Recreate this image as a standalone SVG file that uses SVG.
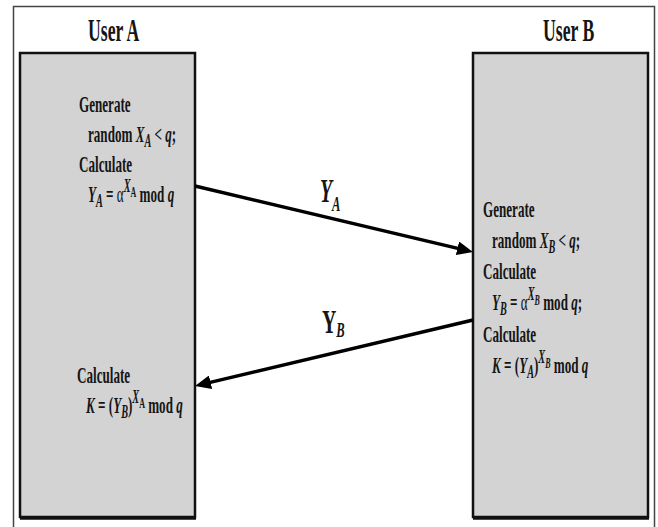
<svg xmlns="http://www.w3.org/2000/svg" width="658" height="527" viewBox="0 0 658 527">
<style>
.t{font-family:"Liberation Serif","Times New Roman",serif;font-size:23px;font-weight:bold;fill:#151515}
.h{font-size:31px}
.lab{font-size:33px}
.i{font-style:italic}
.n{font-weight:normal}
.s{font-size:18px}
.ss{font-size:14px}
.ls{font-size:21px}
.box{fill:#d3d3d3;stroke:#111;stroke-width:2.5}
.shadow{stroke:#111;stroke-width:3.5}
.conn{stroke:#000;stroke-width:3.5;fill:none}
</style>
<defs>
<marker id="ah" markerUnits="userSpaceOnUse" markerWidth="16" markerHeight="14" refX="8" refY="7" orient="auto">
<path d="M0,0 L16,7 L0,14 z" fill="#000"/>
</marker>
</defs>
<rect width="658" height="527" fill="#fff"/>
<path d="M13.5,527 V6.5 H654.5 V527" fill="none" stroke="#444" stroke-width="1.5"/>

<g id="userA">
<text class="t h" transform="translate(88,41) scale(0.57,1)">User A</text>
<rect class="box" x="20" y="53" width="175" height="464"/>
<line class="shadow" x1="20" y1="518" x2="196" y2="518"/>
<text class="t" transform="translate(79,112) scale(0.57,1)">Generate</text>
<text class="t" transform="translate(88,142) scale(0.57,1)">random <tspan class="i">X</tspan><tspan class="i s" dy="5">A</tspan><tspan dy="-5"> &lt; </tspan><tspan class="i">q</tspan>;</text>
<text class="t" transform="translate(79,172) scale(0.57,1)">Calculate</text>
<text class="t" transform="translate(88,202) scale(0.57,1)"><tspan class="i">Y</tspan><tspan class="i s" dy="5">A</tspan><tspan dy="-5"> = </tspan><tspan class="n">α</tspan><tspan class="i s" dy="-10">X</tspan><tspan class="ss" dy="5">A</tspan><tspan dy="5"> mod </tspan><tspan class="i">q</tspan></text>
<text class="t" transform="translate(77,383) scale(0.57,1)">Calculate</text>
<text class="t" transform="translate(86,413) scale(0.57,1)"><tspan class="i">K</tspan> = (<tspan class="i">Y</tspan><tspan class="i s" dy="5">B</tspan><tspan dy="-5">)</tspan><tspan class="i s" dy="-10">X</tspan><tspan class="ss" dy="5">A</tspan><tspan dy="5"> mod </tspan><tspan class="i">q</tspan></text>
</g>

<g id="userB">
<text class="t h" transform="translate(543,41) scale(0.57,1)">User B</text>
<rect class="box" x="473" y="53" width="175" height="464"/>
<line class="shadow" x1="473" y1="518" x2="649" y2="518"/>
<text class="t" transform="translate(483,217) scale(0.57,1)">Generate</text>
<text class="t" transform="translate(492,248) scale(0.57,1)">random <tspan class="i">X</tspan><tspan class="i s" dy="5">B</tspan><tspan dy="-5"> &lt; </tspan><tspan class="i">q</tspan>;</text>
<text class="t" transform="translate(483,279) scale(0.57,1)">Calculate</text>
<text class="t" transform="translate(492,310) scale(0.57,1)"><tspan class="i">Y</tspan><tspan class="i s" dy="5">B</tspan><tspan dy="-5"> = </tspan><tspan class="n">α</tspan><tspan class="i s" dy="-10">X</tspan><tspan class="i ss" dy="5">B</tspan><tspan dy="5"> mod </tspan><tspan class="i">q</tspan>;</text>
<text class="t" transform="translate(483,342) scale(0.57,1)">Calculate</text>
<text class="t" transform="translate(492,373) scale(0.57,1)"><tspan class="i">K</tspan> = (<tspan class="i">Y</tspan><tspan class="i s" dy="5">A</tspan><tspan dy="-5">)</tspan><tspan class="i s" dy="-10">X</tspan><tspan class="i ss" dy="5">B</tspan><tspan dy="5"> mod </tspan><tspan class="i">q</tspan></text>
</g>

<g id="connectors">
<line class="conn" x1="195" y1="186" x2="465.2" y2="250.1" marker-end="url(#ah)"/>
<line class="conn" x1="473" y1="320" x2="202.8" y2="384.1" marker-end="url(#ah)"/>
<text class="t lab" transform="translate(320,202) scale(0.6,1)"><tspan class="i">Y</tspan><tspan class="i ls" dy="9">A</tspan></text>
<text class="t lab" transform="translate(322,333) scale(0.6,1)">Y<tspan class="i ls" dy="4">B</tspan></text>
</g>
</svg>
